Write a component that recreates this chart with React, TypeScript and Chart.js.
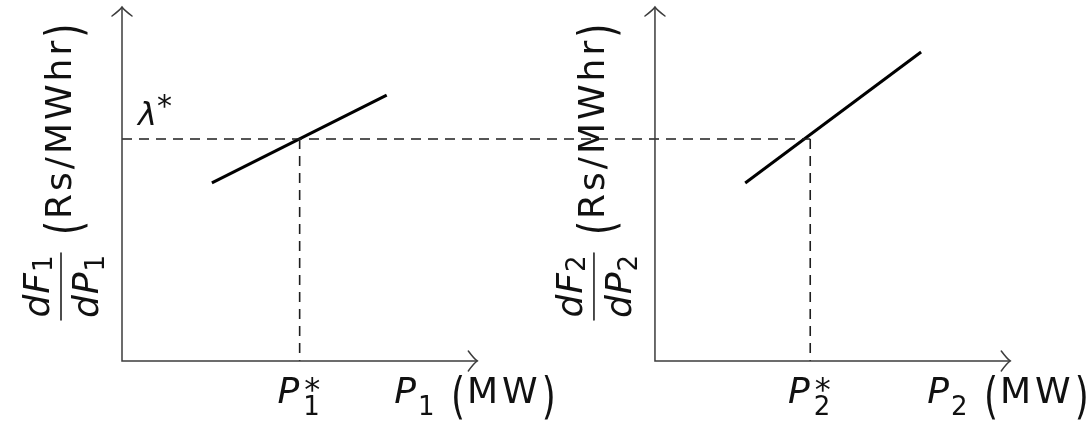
import React, { useEffect, useRef } from "react";
import { Chart, registerables } from "chart.js";

Chart.register(...registerables);

// ---- data (chart units) ----
const panelIds = ["1", "2"];
const panelOffset = [0, 15]; // origin of each panel on the shared x scale
const axisLength = 10;
const lambdaStar = 6.27;
const pStar = [5.0, 4.37];
const mcP1 = [2.53, 7.45];
const mcRate1 = [5.03, 7.51];
const mcP2 = [2.54, 7.49];
const mcRate2 = [5.03, 8.73];
const xAxisUnit = "(MW)";
const yAxisUnit = "(Rs/MWhr)";
const lambdaLabel = "λ";

// ---- layout (scale windows) ----
const X_MIN = -3.4337;
const X_MAX = 27.244;
const Y_MIN = -1.695;
const Y_MAX = 10.198;

const FONT = '"DejaVu Sans", "Liberation Sans", sans-serif';
const AXIS_COLOR = "#3c3c3c";
const TEXT_COLOR = "#111";

type Seg = {
  t: string;
  size: number;
  italic?: boolean;
  dy?: number;
  dx?: number;
  sy?: number;
  ls?: number;
  noAdvance?: boolean;
};

function setFont(ctx: CanvasRenderingContext2D, s: Seg) {
  ctx.font = `${s.italic ? "italic " : ""}${s.size}px ${FONT}`;
  (ctx as any).letterSpacing = `${s.ls ?? 2}px`;
}

function measureRich(ctx: CanvasRenderingContext2D, segs: Seg[]) {
  let w = 0;
  for (const s of segs) {
    setFont(ctx, s);
    if (!s.noAdvance) w += ctx.measureText(s.t).width + (s.dx ?? 0);
  }
  return w;
}

function drawRich(
  ctx: CanvasRenderingContext2D,
  segs: Seg[],
  x: number,
  y: number,
  align: "left" | "center" = "left"
) {
  let cx = align === "center" ? x - measureRich(ctx, segs) / 2 : x;
  ctx.textAlign = "left";
  ctx.textBaseline = "alphabetic";
  ctx.fillStyle = TEXT_COLOR;
  for (const s of segs) {
    setFont(ctx, s);
    const w = ctx.measureText(s.t).width;
    ctx.save();
    ctx.translate(cx + (s.dx ?? 0), y + (s.dy ?? 0));
    if (s.sy) ctx.scale(1, s.sy);
    ctx.fillText(s.t, 0, 0);
    ctx.restore();
    if (!s.noAdvance) cx += w + (s.dx ?? 0);
  }
}

const paren = (t: string): Seg => ({ t, size: 36, sy: 1.4, dy: 10 });

const labelsPlugin = {
  id: "econLabels",
  afterDatasetsDraw(chart: any) {
    const ctx: CanvasRenderingContext2D = chart.ctx;
    const xs = chart.scales.x;
    const ys = chart.scales.y;
    const y0 = ys.getPixelForValue(0);
    const yTop = ys.getPixelForValue(axisLength);
    ctx.save();

    panelIds.forEach((id, i) => {
      const ox = xs.getPixelForValue(panelOffset[i]);
      const tipX = xs.getPixelForValue(panelOffset[i] + axisLength);

      // arrowheads
      ctx.strokeStyle = AXIS_COLOR;
      ctx.lineWidth = 1.5;
      ctx.lineCap = "round";
      ctx.beginPath();
      ctx.moveTo(ox - 10, yTop + 9);
      ctx.quadraticCurveTo(ox - 2, yTop + 3, ox, yTop);
      ctx.quadraticCurveTo(ox + 2, yTop + 3, ox + 10, yTop + 9);
      ctx.stroke();
      ctx.beginPath();
      ctx.moveTo(tipX - 9, y0 - 10);
      ctx.quadraticCurveTo(tipX - 3, y0 - 2, tipX, y0);
      ctx.quadraticCurveTo(tipX - 3, y0 + 2, tipX - 9, y0 + 10);
      ctx.stroke();

      // x axis label  P_i (MW)
      drawRich(
        ctx,
        [
          { t: "P", size: 36, italic: true },
          { t: id, size: 26, dy: 12, ls: 0 },
          { t: " ", size: 36, ls: 5 },
          paren("("),
          { t: xAxisUnit.slice(1, -1), size: 36, ls: 4 },
          paren(")"),
        ],
        tipX - 83,
        y0 + 42
      );

      // P_i^* at the dashed line
      const px = xs.getPixelForValue(panelOffset[i] + pStar[i]);
      drawRich(
        ctx,
        [
          { t: "P", size: 36, italic: true },
          { t: "*", size: 32, dy: -3, dx: 3, noAdvance: true },
          { t: id, size: 26, dy: 12, dx: 2 },
        ],
        px,
        y0 + 42,
        "center"
      );

      // rotated y label: dF_i/dP_i (Rs/MWhr)
      ctx.save();
      ctx.translate(ox - 61, y0 - 74.5);
      ctx.rotate(-Math.PI / 2);
      ctx.strokeStyle = TEXT_COLOR;
      ctx.lineWidth = 1.5;
      ctx.beginPath();
      ctx.moveTo(-33.5, 0);
      ctx.lineTo(33.5, 0);
      ctx.stroke();
      drawRich(
        ctx,
        [
          { t: "dF", size: 36, italic: true, ls: 1 },
          { t: id, size: 26, dy: 3, ls: 0 },
        ],
        0,
        -12,
        "center"
      );
      drawRich(
        ctx,
        [
          { t: "dP", size: 36, italic: true, ls: 1 },
          { t: id, size: 26, dy: 6, ls: 0 },
        ],
        0,
        37,
        "center"
      );
      drawRich(
        ctx,
        [
          paren("("),
          { t: yAxisUnit.slice(1, -1), size: 36, ls: 3 },
          paren(")"),
        ],
        51.5,
        10
      );
      ctx.restore();
    });

    // lambda*
    const ox1 = xs.getPixelForValue(panelOffset[0]);
    drawRich(
      ctx,
      [
        { t: lambdaLabel, size: 32, italic: true, ls: 0 },
        { t: "*", size: 30, dy: -9, ls: 0 },
      ],
      ox1 + 16,
      ys.getPixelForValue(lambdaStar) - 14
    );

    ctx.restore();
  },
};

function pts(xsArr: number[], ysArr: number[], off: number) {
  return xsArr.map((x, k) => ({ x: x + off, y: ysArr[k] }));
}

export default function App() {
  const canvasRef = useRef<HTMLCanvasElement | null>(null);

  useEffect(() => {
    if (!canvasRef.current) return;
    const base = { showLine: true, pointRadius: 0, fill: false, tension: 0 };
    const axes = panelOffset.map((off) => ({
      ...base,
      data: [
        { x: off, y: axisLength },
        { x: off, y: 0 },
        { x: off + axisLength, y: 0 },
      ],
      borderColor: AXIS_COLOR,
      borderWidth: 1.5,
    }));
    const dash = { borderColor: "#1e1e1e", borderWidth: 1.6, borderDash: [10, 7] };
    const dashed = [
      {
        ...base,
        ...dash,
        data: [
          { x: panelOffset[0], y: lambdaStar },
          { x: panelOffset[1] + pStar[1], y: lambdaStar },
        ],
      },
      ...pStar.map((p, i) => ({
        ...base,
        ...dash,
        data: [
          { x: panelOffset[i] + p, y: lambdaStar },
          { x: panelOffset[i] + p, y: 0 },
        ],
      })),
    ];
    const curves = [
      { ...base, data: pts(mcP1, mcRate1, panelOffset[0]), borderColor: "#000", borderWidth: 3 },
      { ...base, data: pts(mcP2, mcRate2, panelOffset[1]), borderColor: "#000", borderWidth: 3 },
    ];

    const chart = new Chart(canvasRef.current, {
      type: "scatter",
      data: { datasets: [...axes, ...dashed, ...curves] as any },
      options: {
        animation: false,
        responsive: false,
        maintainAspectRatio: false,
        events: [],
        layout: { padding: 0 },
        plugins: { legend: { display: false }, tooltip: { enabled: false } },
        scales: {
          x: { type: "linear", display: false, min: X_MIN, max: X_MAX },
          y: { type: "linear", display: false, min: Y_MIN, max: Y_MAX },
        },
      },
      plugins: [labelsPlugin],
    });
    return () => chart.destroy();
  }, []);

  return (
    <div style={{ position: "absolute", left: 0, top: 0, width: 1090, height: 421, background: "#fff" }}>
      <canvas ref={canvasRef} width={1090} height={421} style={{ display: "block" }} />
    </div>
  );
}
